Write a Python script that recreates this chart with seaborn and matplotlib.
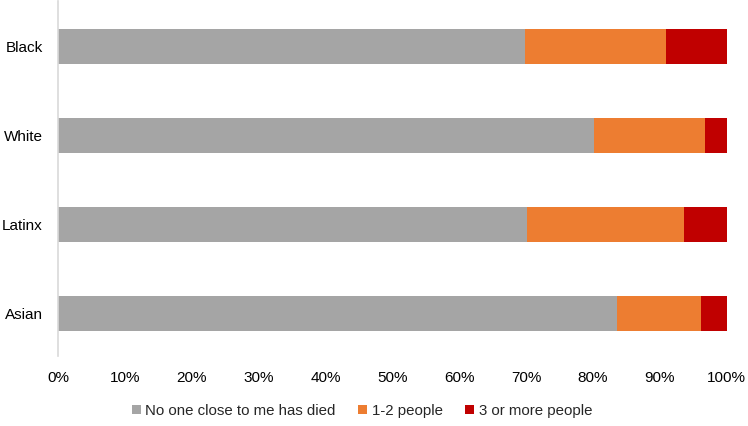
import matplotlib
matplotlib.use("Agg")
import matplotlib.pyplot as plt
from matplotlib.patches import Patch
import numpy as np
import pandas as pd
import seaborn as sns

groups = ["Black", "White", "Latinx", "Asian"]
series = ["No one close to me has died", "1-2 people", "3 or more people"]
no_one = [69.8, 80.2, 70.2, 83.6]
one_two = [21.2, 16.6, 23.4, 12.6]
three_plus = [9.0, 3.2, 6.4, 3.8]
colors = ["#A5A5A5", "#ED7D31", "#C00000"]
ticks = np.arange(0, 101, 10)
tick_labels = [f"{t}%" for t in ticks]

sns.set_theme(style="white")
plt.rcParams["font.family"] = ["Liberation Sans", "DejaVu Sans"]

df = pd.DataFrame({"group": groups, "a": no_one, "b": one_two, "c": three_plus})
df["cum_a"] = df["a"]
df["cum_b"] = df["a"] + df["b"]
df["cum_c"] = df["cum_b"] + df["c"]

fig = plt.figure(figsize=(7.48, 4.26), dpi=100)
ax = fig.add_axes([58 / 748, 1 - 356 / 426, (726.5 - 58) / 748, 355 / 426])

# stacked bars: draw the cumulative totals back to front
for col, color in zip(["cum_c", "cum_b", "cum_a"], colors[::-1]):
    sns.barplot(data=df, x=col, y="group", order=groups, color=color,
                width=0.39, saturation=1, linewidth=0, orient="h", ax=ax)

ax.set_xlim(0, 100)
ax.set_ylim(3.48, -0.51)
ax.set_xticks(ticks)
ax.set_xticklabels(tick_labels)
ax.set_xlabel("")
ax.set_ylabel("")
ax.tick_params(axis="x", length=0, pad=10.5, labelsize=11, colors="#000000")
ax.tick_params(axis="y", length=0, pad=11, labelsize=11, colors="#000000")
for side in ["top", "right", "bottom"]:
    ax.spines[side].set_visible(False)
ax.spines["left"].set_color("#D9D9D9")
ax.spines["left"].set_linewidth(1.2)

handles = [Patch(facecolor=c, edgecolor="none") for c in colors]
fig.legend(handles, series, loc="center", ncol=3, frameon=False,
           bbox_to_anchor=(362 / 748, 1 - 411 / 426), fontsize=10.8,
           handlelength=0.6, handleheight=0.6, handletextpad=0.3,
           columnspacing=1.5)

fig.savefig("out.png", dpi=100)
plt.close(fig)
